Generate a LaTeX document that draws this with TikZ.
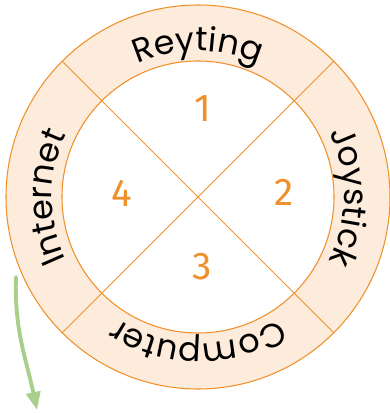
\documentclass[tikz,border=0pt]{standalone}
\usepackage{fontspec}
\setmainfont{Poppins}
\newfontfamily\numfont{Fira Sans}
\usetikzlibrary{decorations.text,arrows.meta}
\definecolor{ringline}{HTML}{F0902A}
\definecolor{ringfill}{HTML}{FDEBDB}
\definecolor{arrowgreen}{HTML}{A8CF8C}
\newcommand{\ringfont}{\fontsize{19}{20}\selectfont}
\begin{document}
\begin{tikzpicture}[line cap=round, line join=round, >=stealth]
	\tikzset{ring text/.style={decorate, decoration={text along path, text align=center, text={|\ringfont|#1}}},
		num/.style={text=ringline, font=\numfont\fontsize{22}{24}\selectfont}}
	\useasboundingbox (-3.96,-4.32) rectangle (3.82,3.94);
	\fill[ringfill, even odd rule] (0,0) circle (3.84) (0,0) circle (2.72);
	\draw[ringline, line width=0.6pt] (0,0) circle (3.84) (0,0) circle (2.72);
	\draw[ringline, line width=0.6pt] (45:3.84)--(225:3.84) (135:3.84)--(-45:3.84);
	\path[ring text=Reyting] (150:2.92) arc[start angle=150, end angle=30, radius=2.92];
	\path[ring text=Joystick] (60:2.92) arc[start angle=60, end angle=-60, radius=2.92];
	\path[ring text=Computer] (-30:2.92) arc[start angle=-30, end angle=-150, radius=2.92];
	\path[ring text=Internet] (240:2.92) arc[start angle=240, end angle=120, radius=2.92];
	\node[num] (n1) at (0.10,1.76) {1};
	\node[num] (n2) at (1.72,0.10) {2};
	\node[num] (n3) at (0.08,-1.40) {3};
	\node[num] (n4) at (-1.52,0.08) {4};
	\coordinate (from) at (-3.64,-1.60);
	\coordinate (to) at (-3.22,-4.26);
	\draw[arrowgreen, line width=2.2pt, -{Triangle[length=0.36cm, width=0.28cm]}] (from) to[out=-92, in=102] (to);
\end{tikzpicture}
\end{document}
